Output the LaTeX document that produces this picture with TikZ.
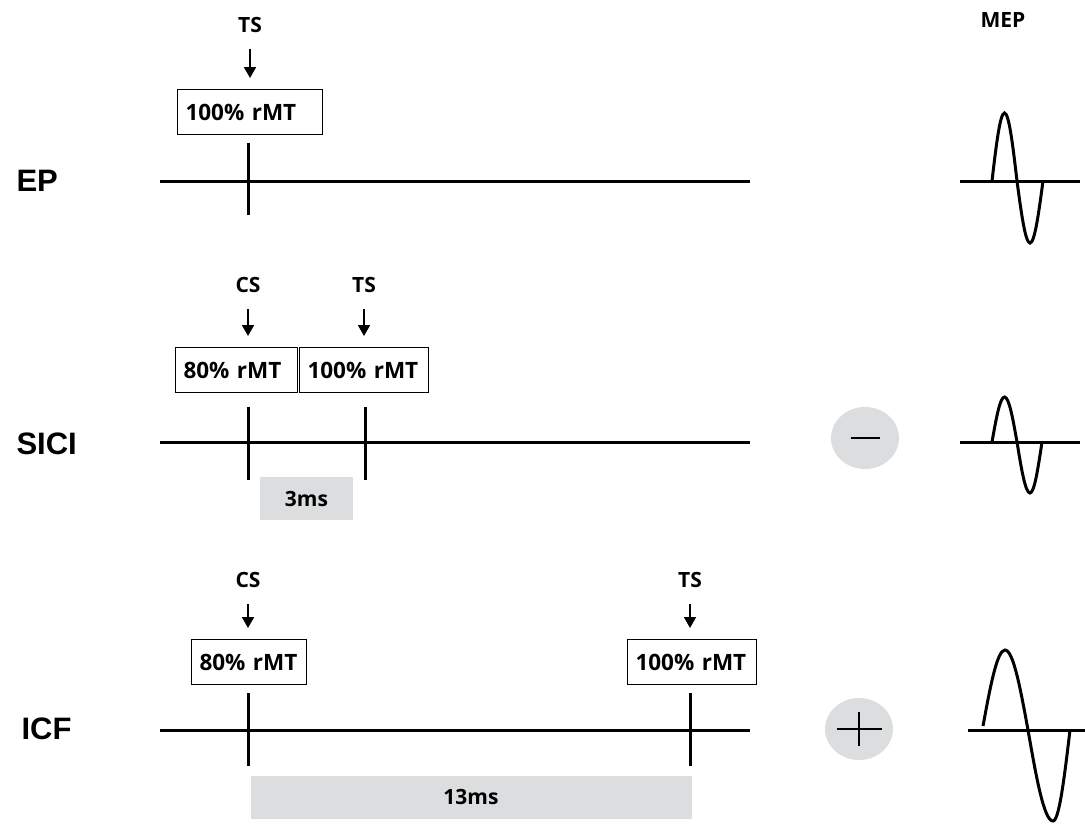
\documentclass[tikz,border=0pt]{standalone}
\usepackage{fontspec}
\setmainfont{Open Sans}
\newfontfamily\rowfont{Liberation Sans}
\usetikzlibrary{arrows.meta,positioning,calc,shapes.geometric}

\definecolor{bargrey}{RGB}{220,221,223}

\begin{document}
\begin{tikzpicture}[x=1pt, y=-1pt,
  pulse/.style={draw, line width=1pt, text width=#1, align=left,
                inner xsep=8pt, inner ysep=0pt, minimum height=45pt,
                font=\bfseries\fontsize{22.5}{26}\selectfont},
  stim/.style={font=\bfseries\fontsize{21}{24}\selectfont},
  rowlabel/.style={anchor=west, font=\rowfont\bfseries\fontsize{31}{36}\selectfont},
  interval/.style={fill=bargrey, inner sep=0pt, minimum height=43pt,
                   font=\bfseries\fontsize{21}{24}\selectfont},
  sign/.style={ellipse, fill=bargrey, minimum width=68pt, minimum height=62pt},
  stimarrow/.style={-{Triangle[width=12pt,length=11pt]}, line width=1.8pt,
                    shorten <=13pt, shorten >=11pt},
  axis/.style={line width=3pt},
  tick/.style={line width=3pt},
  wave/.style={line width=3pt}]

  \useasboundingbox (0,0) rectangle (1085,825);

  % EP
  \node[rowlabel] (ep) at (13,181) {EP};
  \node[stim] (ts1) at (250,25) {TS};
  \node[pulse=129pt, anchor=west] (p1) at (177,112) {100\% rMT};
  \draw[stimarrow] (ts1.south) -- (ts1 |- p1.north);
  \coordinate (a1) at (160,181);
  \coordinate (b1) at (750,181);
  \draw[axis] (a1) -- (b1);
  \draw[tick] (248,143) -- (248,215);

  % SICI
  \node[rowlabel] (sici) at (13,444) {SICI};
  \node[stim] (cs2) at (248,285) {CS};
  \node[stim] (ts2) at (364,285) {TS};
  \node[pulse=106pt, anchor=west] (p2a) at (175,370) {80\% rMT};
  \node[pulse=113pt, anchor=west] (p2b) at (299,370) {100\% rMT};
  \draw[stimarrow] (cs2.south) -- (cs2 |- p2a.north);
  \draw[stimarrow] (ts2.south) -- (ts2 |- p2b.north);
  \coordinate (a2) at (160,442);
  \coordinate (b2) at (750,442);
  \draw[axis] (a2) -- (b2);
  \draw[tick] (248,407) -- (248,480);
  \draw[tick] (365,407) -- (365,480);
  \node[interval, minimum width=93pt] (d2) at (306.5,498.5) {3ms};
  \node[sign] (minus) at (865,438) {};
  \draw[line width=2.4pt] ($(minus)+(-14.5,0)$) -- ($(minus)+(14.5,0)$);

  % ICF
  \node[rowlabel] (icf) at (18,729) {ICF};
  \node[stim] (cs3) at (248,580) {CS};
  \node[stim] (ts3) at (690,580) {TS};
  \node[pulse=99pt, anchor=west] (p3a) at (191,662) {80\% rMT};
  \node[pulse=113pt, anchor=west] (p3b) at (627,662) {100\% rMT};
  \draw[stimarrow] (cs3.south) -- (cs3 |- p3a.north);
  \draw[stimarrow] (ts3.south) -- (ts3 |- p3b.north);
  \coordinate (a3) at (160,730);
  \coordinate (b3) at (750,730);
  \draw[axis] (a3) -- (b3);
  \draw[tick] (248,693) -- (248,766);
  \draw[tick] (690,693) -- (690,766);
  \node[interval, minimum width=441pt] (d3) at (471,797) {13ms};
  \node[sign] (plus) at (859,729) {};
  \draw[line width=2.4pt] ($(plus)+(-22.5,0)$) -- ($(plus)+(22.5,0)$)
                          ($(plus)+(0,-17)$) -- ($(plus)+(0,17)$);

  % MEP traces
  \node[stim] (mep) at (1003,20) {MEP};
  \draw[axis] (960,181) -- (1080,181);
  \draw[wave] (992,181) sin (1004.5,113) cos (1017,181) sin (1030,243) cos (1043,181);
  \draw[axis] (960,442) -- (1080,442);
  \draw[wave] (992,442) sin (1004.5,397) cos (1017,442) sin (1030,493) cos (1042,442);
  \draw[axis] (968,730) -- (1085,730);
  \draw[wave] (983,726) sin (1005,650) cos (1028,730) sin (1053,821) cos (1070,730);

\end{tikzpicture}
\end{document}
